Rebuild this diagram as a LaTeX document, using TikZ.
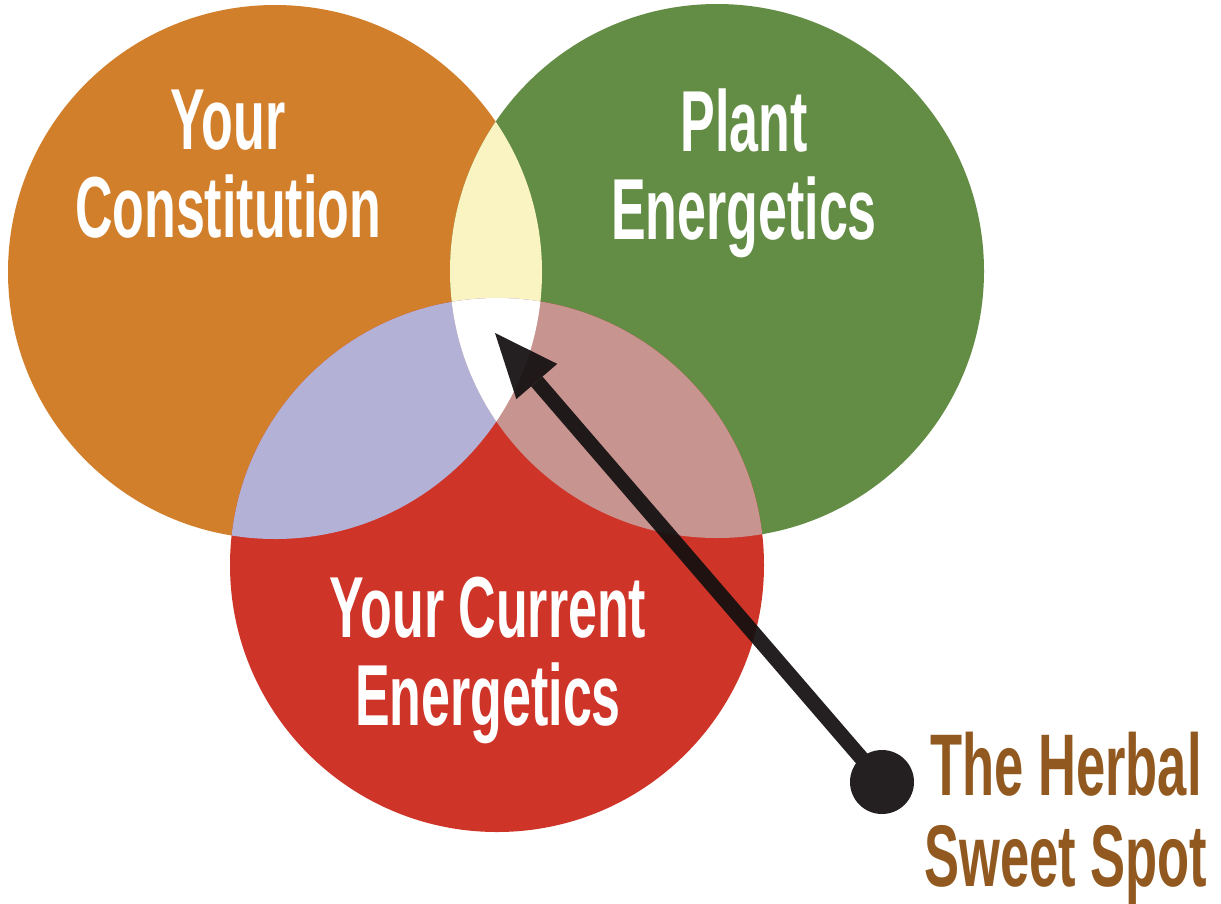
\documentclass[tikz,border=0pt]{standalone}
\usepackage{fontspec}
\newfontfamily\condfont{Liberation Sans}[FakeStretch=0.6]
\usetikzlibrary{arrows.meta}
\definecolor{corange}{HTML}{D27F2B}
\definecolor{cgreen}{HTML}{638C45}
\definecolor{cred}{HTML}{CF3429}
\definecolor{cyellow}{HTML}{FAF4C2}
\definecolor{clav}{HTML}{B4B1D7}
\definecolor{cpink}{HTML}{C89490}
\definecolor{cbrown}{HTML}{91591F}
\definecolor{cblack}{HTML}{141011}
\begin{document}
\begin{tikzpicture}[x=1pt,y=-1pt,
  circtext/.style={font=\condfont\bfseries\fontsize{86.6}{88}\selectfont, text=white, align=center, inner sep=0pt, anchor=base},
  spottext/.style={circtext, text=cbrown, font=\condfont\bfseries\fontsize{87.5}{91}\selectfont},
  disc/.style={radius=267pt}]
\useasboundingbox (0,0) rectangle (1221,903);
\fill[white] (0,0) rectangle (1221,903);
\coordinate (cO) at (275,272);
\coordinate (cG) at (717,271);
\coordinate (cR) at (497,565);
% base circles
\fill[corange] (cO) circle[disc];
\fill[cgreen] (cG) circle[disc];
\fill[cred] (cR) circle[disc];
% pairwise overlaps
\begin{scope}
  \clip (cO) circle[disc];
  \fill[cyellow] (cG) circle[disc];
\end{scope}
\begin{scope}
  \clip (cO) circle[disc];
  \fill[clav] (cR) circle[disc];
\end{scope}
\begin{scope}
  \clip (cG) circle[disc];
  \fill[cpink] (cR) circle[disc];
\end{scope}
% triple overlap
\begin{scope}
  \clip (cO) circle[disc];
  \clip (cG) circle[disc];
  \fill[white] (cR) circle[disc];
\end{scope}
% labels (anchor base = baseline of last line)
\node[circtext] (constitution) at (228,237) {Your\\Constitution};
\node[circtext] (plant) at (744,239) {Plant\\Energetics};
\node[circtext] (current) at (488,725) {Your Current\\Energetics};
\node[spottext] (spot) at (1066,886) {The Herbal\\Sweet Spot};
% pointer
\begin{scope}[transparency group, opacity=0.93]
  \node[circle, fill=cblack, minimum size=64pt, inner sep=0pt] (dot) at (882,782) {};
  \coordinate (tip) at (495,333);
  \draw[cblack, line width=15pt, -{Triangle[length=64pt, width=54pt, line width=0pt]}] (dot.center) -- (tip);
\end{scope}
\end{tikzpicture}
\end{document}
